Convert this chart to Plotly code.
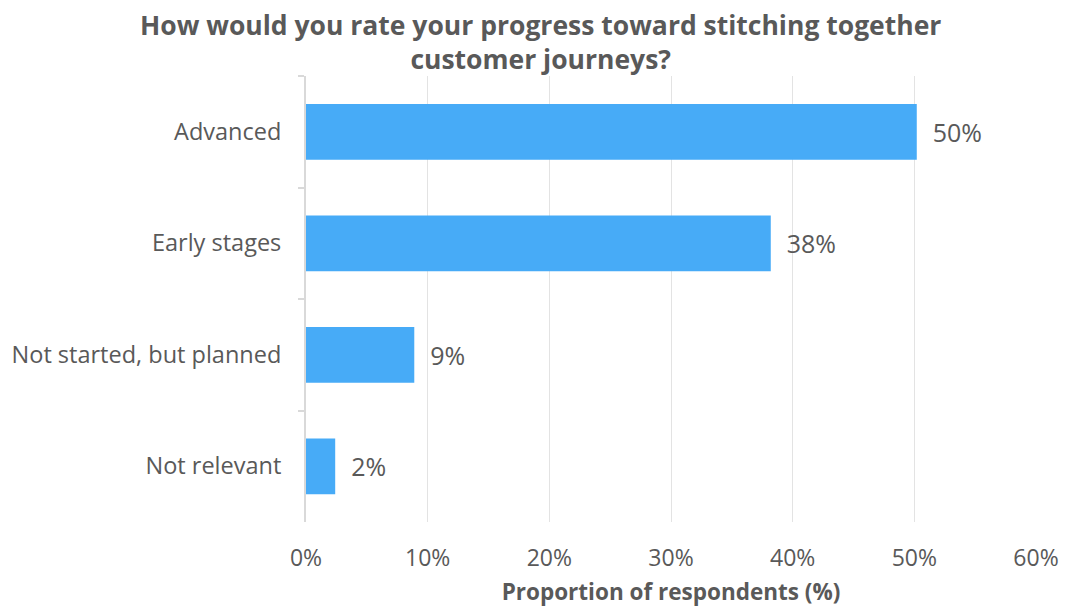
import plotly.graph_objects as go

categories = ["Advanced", "Early stages", "Not started, but planned", "Not relevant"]
values = [50.2, 38.2, 8.9, 2.4]
labels = ["50%", "38%", "9%", "2%"]
x_ticks = [0, 10, 20, 30, 40, 50, 60]
x_tick_labels = ["0%", "10%", "20%", "30%", "40%", "50%", "60%"]
title_text = "How would you rate your progress toward stitching together<br>customer journeys?"

font_family = "Open Sans, Liberation Sans, sans-serif"
grey = "#595959"
pad = "\u00a0\u00a0"

# page body has an 8px margin, so the figure is sized to the visible area
W, H = 1072, 605
ML, MR, MT, MB = 298, 44, 68, 91
plot_w = W - ML - MR
plot_h = H - MT - MB

fig = go.Figure(go.Bar(
    y=categories,
    x=values,
    orientation="h",
    marker=dict(color="#47abf7", line=dict(width=0)),
    text=[pad + t for t in labels],
    textposition="outside",
    textfont=dict(size=25, color=grey, family=font_family),
    cliponaxis=False,
))

fig.update_layout(
    width=W, height=H,
    paper_bgcolor="white", plot_bgcolor="white",
    margin=dict(l=ML, r=MR, t=MT, b=MB),
    bargap=0.5,
    showlegend=False,
    annotations=[dict(
        text=title_text, xref="paper", yref="paper",
        x=(532 - ML) / plot_w, xanchor="center",
        y=(H - MB - 34) / plot_h, yanchor="middle", showarrow=False,
        font=dict(size=26.5, color=grey, family=font_family, weight="bold"),
    )],
    xaxis=dict(
        range=[0, 60], tickvals=x_ticks, ticktext=x_tick_labels,
        showgrid=True, gridcolor="#e3e3e3", gridwidth=1,
        zeroline=False, showline=False, ticks="",
        tickfont=dict(size=23, color=grey, family=font_family),
        ticklabelstandoff=20, automargin=False,
        title=dict(text="Proportion of respondents (%)", standoff=12,
                   font=dict(size=22.5, color=grey, family=font_family, weight="bold")),
        fixedrange=True,
    ),
    yaxis=dict(
        autorange="reversed", type="category",
        showline=True, linecolor="#d9d9d9", linewidth=2,
        ticks="outside", tickson="boundaries", ticklen=6, tickcolor="#d9d9d9", tickwidth=2,
        showgrid=False, automargin=False,
        tickfont=dict(size=23.5, color=grey, family=font_family),
        ticklabelstandoff=18,
        fixedrange=True,
    ),
)

fig.write_html("out.html")
